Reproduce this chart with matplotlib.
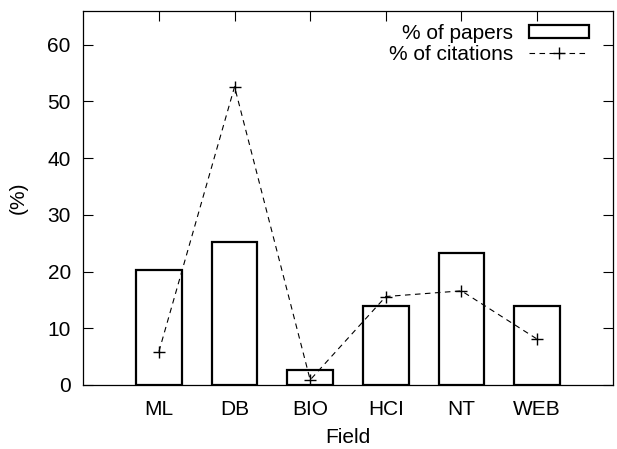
import matplotlib.pyplot as plt
from matplotlib.patches import Patch
from matplotlib.lines import Line2D

fields = ['ML', 'DB', 'BIO', 'HCI', 'NT', 'WEB']
papers = [20.2, 25.3, 2.7, 14.0, 23.2, 14.0]
citations = [5.9, 52.6, 0.9, 15.6, 16.6, 8.1]
yticks = [0, 10, 20, 30, 40, 50, 60]

plt.rcParams['font.family'] = ['Liberation Sans', 'DejaVu Sans']
plt.rcParams['font.size'] = 15

fig = plt.figure(figsize=(6.17, 4.49), dpi=100)
ax = fig.add_axes([83.3 / 617, 1 - 385 / 449, (612.7 - 83.3) / 617, (385 - 10.7) / 449])

x = list(range(len(fields)))
ax.bar(x, papers, width=0.6, facecolor='white', edgecolor='black', linewidth=1.6, zorder=2)
ax.plot(x, citations, color='black', linestyle=(0, (5, 4)), linewidth=0.8,
        marker='+', markersize=9, markeredgewidth=1.0, zorder=3)

ax.set_xlim(-1, 6)
ax.set_ylim(0, 66)
ax.set_xticks(x)
ax.set_xticklabels(fields)
ax.set_yticks(yticks)
ax.tick_params(direction='in', length=7, width=0.8, top=True, right=True)
ax.tick_params(axis='y', pad=9)
ax.tick_params(axis='x', pad=11)
for s in ax.spines.values():
    s.set_linewidth(0.9)

ax.set_xlabel('Field', labelpad=6)
ax.set_ylabel('(%)', labelpad=14)

handles = [Patch(facecolor='white', edgecolor='black', linewidth=1.6),
           Line2D([], [], color='black', linestyle=(0, (5, 4)), linewidth=0.8,
                  marker='+', markersize=9, markeredgewidth=1.0)]
ax.legend(handles, ['% of papers', '% of citations'], loc='upper right',
          bbox_to_anchor=(589 / 617, 1 - 24 / 449), bbox_transform=fig.transFigure,
          frameon=False, markerfirst=False, handlelength=2.9, handleheight=0.55,
          handletextpad=0.75, labelspacing=0.1, borderpad=0, borderaxespad=0)

fig.savefig('out.png', dpi=100)
